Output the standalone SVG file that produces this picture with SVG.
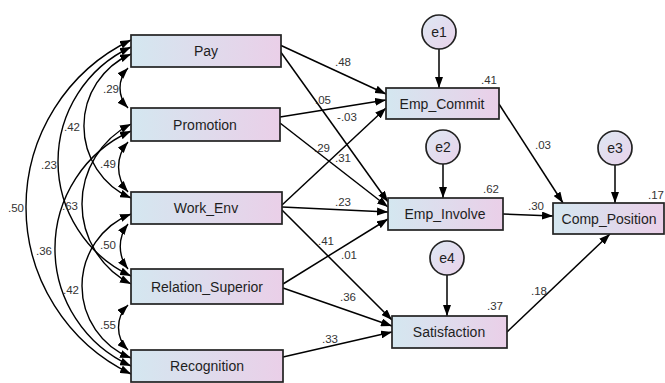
<svg xmlns="http://www.w3.org/2000/svg" width="665" height="383" viewBox="0 0 665 383">
<defs>
<linearGradient id="gBox" x1="0" y1="0" x2="1" y2="0">
<stop offset="0" stop-color="#d4e7f0"/>
<stop offset="1" stop-color="#eacfe8"/>
</linearGradient>
<linearGradient id="gCirc" x1="0" y1="0" x2="1" y2="1">
<stop offset="0" stop-color="#dde8f3"/>
<stop offset="1" stop-color="#e9d2ea"/>
</linearGradient>
<marker id="ah" viewBox="0 0 11 8" refX="11" refY="4" markerWidth="11" markerHeight="8" markerUnits="userSpaceOnUse" orient="auto-start-reverse">
<path d="M0,0 L11,4 L0,8 z" fill="#000"/>
</marker>
</defs>
<style>
.box{fill:url(#gBox);stroke:#222;stroke-width:1.7}
.circ{fill:url(#gCirc);stroke:#222;stroke-width:1.7}
.name{font-family:"Liberation Sans",Arial,sans-serif;font-size:14px;fill:#1e1e1e;text-anchor:middle}
.num{font-family:"Liberation Sans",Arial,sans-serif;font-size:11.5px;fill:#333;text-anchor:middle}
.ln{fill:none;stroke:#000;stroke-width:1.5;marker-end:url(#ah)}
.cv{fill:none;stroke:#000;stroke-width:1.4;marker-start:url(#ah);marker-end:url(#ah)}
</style>
<rect width="665" height="383" fill="#fff"/>

<g id="connectors">
<path class="cv" d="M131,40 A185.3,185.3 0 0 0 131,374"/>
<path class="cv" d="M131,47 A126.3,126.3 0 0 0 131,276"/>
<path class="cv" d="M131,54 A78.6,78.6 0 0 0 131,198"/>
<path class="cv" d="M131,124 A89.8,89.8 0 0 0 131,284"/>
<path class="cv" d="M131,131 A128.8,128.8 0 0 0 131,366"/>
<path class="cv" d="M131,214 A77.4,77.4 0 0 0 131,358"/>
<path class="cv" d="M128,68 A29,29 0 0 0 128,108"/>
<path class="cv" d="M128,142 A37.8,37.8 0 0 0 128,192"/>
<path class="cv" d="M128,224 A36.5,36.5 0 0 0 128,269"/>
<path class="cv" d="M128,305 A31.4,31.4 0 0 0 128,350"/>
<path class="ln" d="M280,45 L386,94"/>
<path class="ln" d="M280,51 L388,202"/>
<path class="ln" d="M280,117 L386,100"/>
<path class="ln" d="M280,123 L388,207"/>
<path class="ln" d="M282,205 L386,108"/>
<path class="ln" d="M282,207 L388,212"/>
<path class="ln" d="M282,210 L392,320"/>
<path class="ln" d="M283,284 L388,219"/>
<path class="ln" d="M283,288 L392,326"/>
<path class="ln" d="M283,357 L392,332"/>
<path class="ln" d="M499,104 L563,203"/>
<path class="ln" d="M503,214 L553,216"/>
<path class="ln" d="M507,332 L610,234"/>
<path class="ln" d="M439,49 L439,88"/>
<path class="ln" d="M443,164 L443,198"/>
<path class="ln" d="M447,275 L447,316"/>
<path class="ln" d="M615,165 L615,203"/>
<text class="num" x="16" y="212">.50</text>
<text class="num" x="49" y="169">.23</text>
<text class="num" x="72" y="131">.42</text>
<text class="num" x="111" y="93">.29</text>
<text class="num" x="108" y="168">.49</text>
<text class="num" x="70" y="210">.63</text>
<text class="num" x="108" y="249">.50</text>
<text class="num" x="44" y="255">.36</text>
<text class="num" x="71" y="294">.42</text>
<text class="num" x="108" y="329">.55</text>
<text class="num" x="343" y="66">.48</text>
<text class="num" x="323" y="104">.05</text>
<text class="num" x="347" y="121">-.03</text>
<text class="num" x="322" y="152">.29</text>
<text class="num" x="343" y="162">.31</text>
<text class="num" x="343" y="206">.23</text>
<text class="num" x="326" y="245">.41</text>
<text class="num" x="349" y="259">.01</text>
<text class="num" x="348" y="301">.36</text>
<text class="num" x="330" y="343">.33</text>
<text class="num" x="489" y="84">.41</text>
<text class="num" x="491" y="193">.62</text>
<text class="num" x="495" y="310">.37</text>
<text class="num" x="656" y="199">.17</text>
<text class="num" x="536" y="210">.30</text>
<text class="num" x="543" y="149">.03</text>
<text class="num" x="539" y="295">.18</text>
</g>

<g id="Pay"><rect class="box" x="131" y="35" width="150" height="32"/><text class="name" x="206" y="56">Pay</text></g>
<g id="Promotion"><rect class="box" x="131" y="108" width="149" height="33"/><text class="name" x="205" y="130">Promotion</text></g>
<g id="Work_Env"><rect class="box" x="131" y="192" width="151" height="32"/><text class="name" x="206" y="213">Work_Env</text></g>
<g id="Relation_Superior"><rect class="box" x="131" y="269" width="152" height="35"/><text class="name" x="207" y="292">Relation_Superior</text></g>
<g id="Recognition"><rect class="box" x="131" y="350" width="152" height="32"/><text class="name" x="207" y="371">Recognition</text></g>

<g id="Emp_Commit"><rect class="box" x="386" y="88" width="113" height="31"/><text class="name" x="442" y="109">Emp_Commit</text></g>
<g id="Emp_Involve"><rect class="box" x="388" y="198" width="115" height="32"/><text class="name" x="445" y="219">Emp_Involve</text></g>
<g id="Satisfaction"><rect class="box" x="392" y="316" width="115" height="32"/><text class="name" x="449" y="337">Satisfaction</text></g>
<g id="Comp_Position"><rect class="box" x="553" y="203" width="111" height="31"/><text class="name" x="609" y="224">Comp_Position</text></g>

<g id="e1"><circle class="circ" cx="439" cy="32" r="17"/><text class="name" x="439" y="37">e1</text></g>
<g id="e2"><circle class="circ" cx="443" cy="147" r="17"/><text class="name" x="443" y="152">e2</text></g>
<g id="e4"><circle class="circ" cx="447" cy="258" r="17"/><text class="name" x="447" y="263">e4</text></g>
<g id="e3"><circle class="circ" cx="615" cy="148" r="17"/><text class="name" x="615" y="153">e3</text></g>
</svg>
